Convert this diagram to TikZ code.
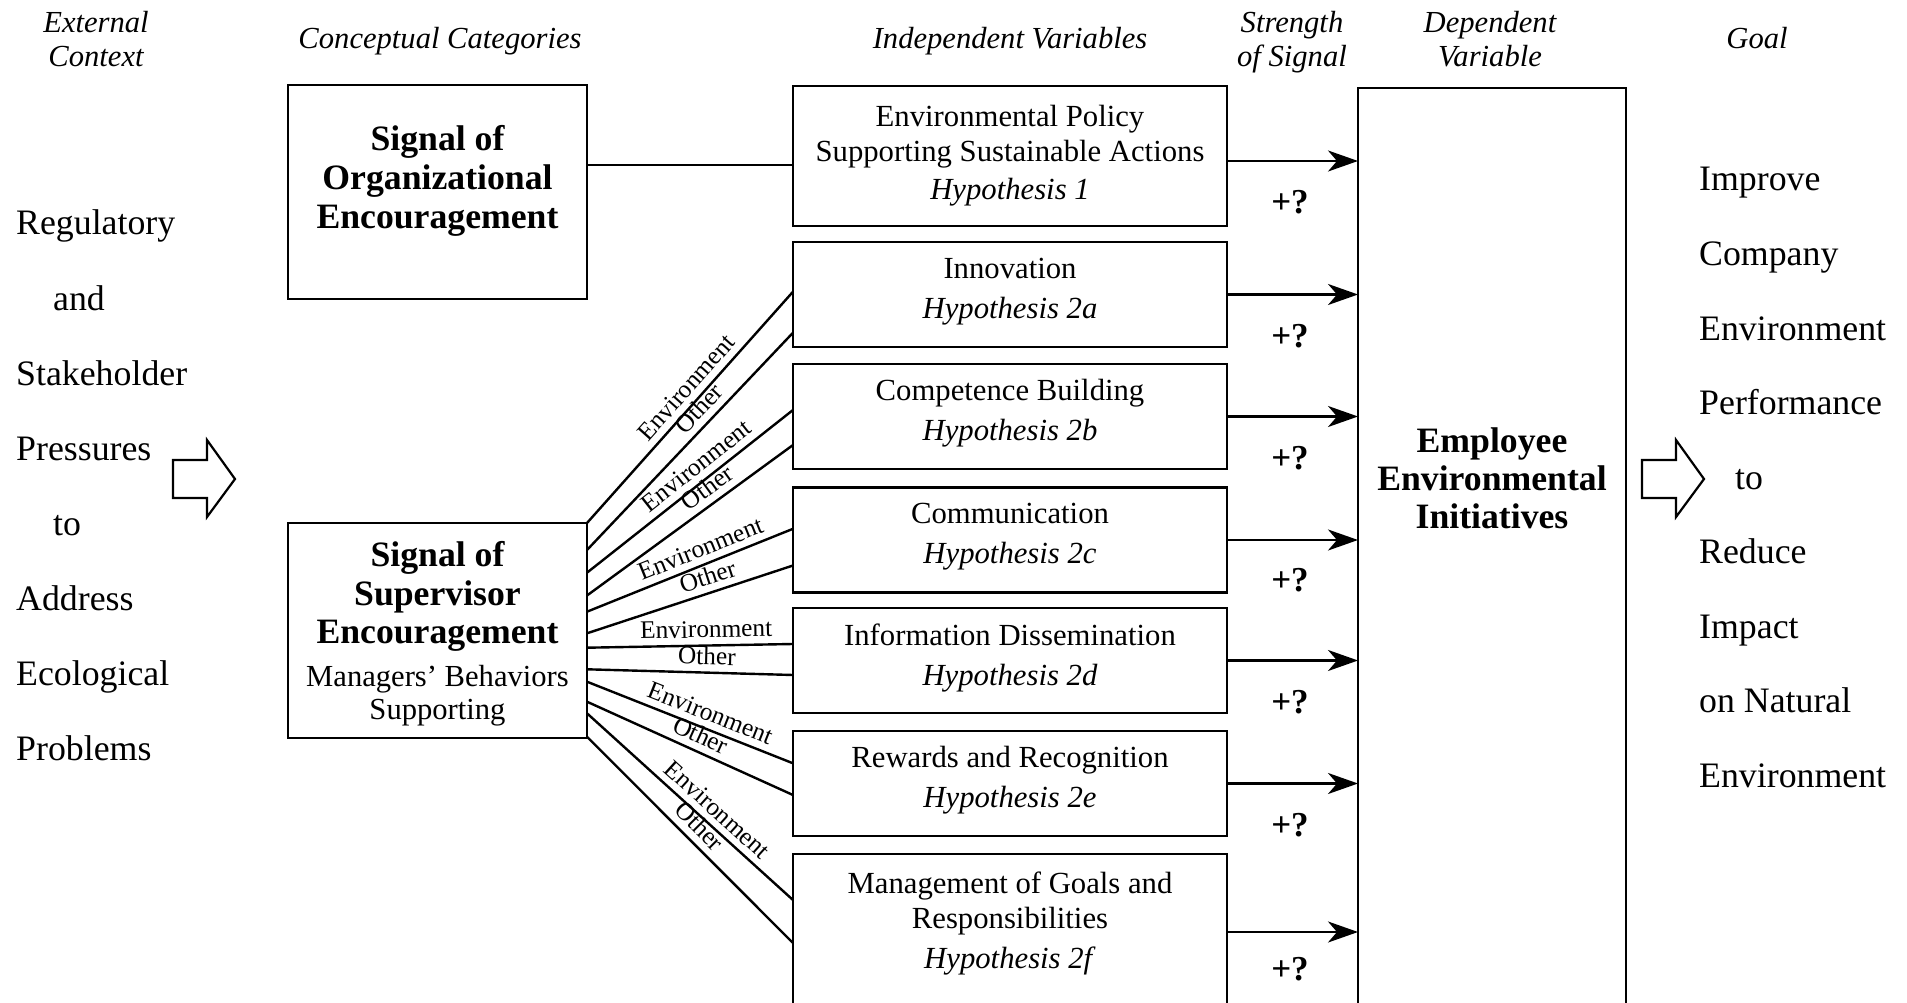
\documentclass[tikz,border=0pt]{standalone}
\usepackage{fontspec}
\setmainfont{Liberation Serif}
\usetikzlibrary{arrows.meta,calc}
\newcommand\bigbold{\fontsize{35.7}{38}\selectfont\bfseries}
\begin{document}
\begin{tikzpicture}[x=1pt,y=-1pt,
  box/.style={draw, line width=2.6pt, align=center, inner sep=0pt, outer sep=0pt},
  ivbox/.style={box, minimum width=434pt, minimum height=105pt, text depth=12.5pt, font=\fontsize{30.7}{40}\selectfont},
  hdr/.style={align=center, inner sep=0pt, font=\fontsize{30.6}{33.5}\selectfont\itshape},
  side/.style={anchor=base west, inner sep=0pt, font=\fontsize{35.8}{40}\selectfont},
  conn/.style={line width=2.4pt},
  lab/.style={sloped, above=5pt, inner sep=1.5pt, font=\fontsize{25.3}{25.3}\selectfont},
  arr/.style={line width=2.6pt, -{Stealth[length=30pt,width=21pt,inset=9pt]}},
  pq/.style={anchor=base, inner sep=0pt, font=\fontsize{35}{35}\selectfont\bfseries},
  blk/.style={draw, line width=2.2pt, line join=miter},
]
\useasboundingbox (0,0) rectangle (1907,1003);
\clip (0,0) rectangle (1907,1003);

% headers
\node[hdr, anchor=north] (hext) at (96,11.5) {External\\Context};
\node[hdr, anchor=base] (hcon) at (440,48.5) {Conceptual Categories};
\node[hdr, anchor=base] (hind) at (1010,48.5) {Independent Variables};
\node[hdr, anchor=north] (hstr) at (1292,11.5) {Strength\\of Signal};
\node[hdr, anchor=north] (hdep) at (1490,11.5) {Dependent\\Variable};
\node[hdr, anchor=base] (hgoal) at (1757,49) {Goal};

% left column
\node[side] (l1) at (16,235) {Regulatory};
\node[side] (l2) at (53,310) {and};
\node[side] (l3) at (16,385) {Stakeholder};
\node[side] (l4) at (16,460) {Pressures};
\node[side] (l5) at (53,535) {to};
\node[side] (l6) at (16,610) {Address};
\node[side] (l7) at (16,685) {Ecological};
\node[side] (l8) at (16,760) {Problems};

% right column
\node[side] (r1) at (1699,191) {Improve};
\node[side] (r2) at (1699,265.5) {Company};
\node[side] (r3) at (1699,340) {Environment};
\node[side] (r4) at (1699,414.5) {Performance};
\node[side] (r5) at (1735,489) {to};
\node[side] (r6) at (1699,563.5) {Reduce};
\node[side] (r7) at (1699,638) {Impact};
\node[side] (r8) at (1699,712.5) {on Natural};
\node[side] (r9) at (1699,787) {Environment};

% block arrows
\draw[blk] (173,460) -- (207,460) -- (207,440) -- (235,479) -- (207,517) -- (207,498) -- (173,498) -- cycle;
\draw[blk] (1642,460) -- (1676,460) -- (1676,440) -- (1704,479) -- (1676,517) -- (1676,498) -- (1642,498) -- cycle;

% category boxes
\node[box, minimum width=299pt, minimum height=214pt, text depth=30pt,
      font=\fontsize{35.7}{39}\selectfont\bfseries] (org) at (437.5,192)
      {Signal of\\Organizational\\Encouragement};
\node[box, minimum width=299pt, minimum height=215pt, text depth=0pt,
      font=\fontsize{30.6}{33}\selectfont] (sup) at (437.5,630.5)
      {\bigbold Signal of\\[5.5pt]\bigbold Supervisor\\[5.5pt]\bigbold Encouragement\\[10pt]Managers’ Behaviors\\Supporting};

% independent variable boxes
\node[box, minimum width=434pt, minimum height=140pt, font=\fontsize{30.7}{35}\selectfont] (iv1) at (1010,156)
      {Environmental Policy\\Supporting Sustainable Actions\\[3pt]\textit{Hypothesis 1}};
\node[ivbox] (iv2) at (1010,294.5) {Innovation\\\textit{Hypothesis 2a}};
\node[ivbox] (iv3) at (1010,416.5) {Competence Building\\\textit{Hypothesis 2b}};
\node[ivbox] (iv4) at (1010,540) {Communication\\\textit{Hypothesis 2c}};
\node[ivbox] (iv5) at (1010,660.5) {Information Dissemination\\\textit{Hypothesis 2d}};
\node[ivbox] (iv6) at (1010,783.5) {Rewards and Recognition\\\textit{Hypothesis 2e}};
\node[box, minimum width=434pt, minimum height=156pt, text depth=23pt, font=\fontsize{30.7}{35}\selectfont] (iv7) at (1010,932)
      {Management of Goals and\\Responsibilities\\[5pt]\textit{Hypothesis 2f}};

% dependent variable
\node[box, minimum width=268pt, minimum height=932pt, text depth=152pt,
      font=\fontsize{35.7}{38}\selectfont\bfseries] (dv) at (1492,554)
      {Employee\\Environmental\\Initiatives};

% organizational link
\coordinate (o1) at ($(iv1.west)+(0,9)$);
\draw[conn] (o1 -| org.east) -- (o1);

% supervisor links
\coordinate (s1) at (sup.north east);
\coordinate (s2) at ($(sup.north east)+(0,27)$);
\coordinate (s3) at ($(sup.north east)+(0,49.7)$);
\coordinate (s4) at ($(sup.north east)+(0,72.5)$);
\coordinate (s5) at ($(sup.north east)+(0,88.7)$);
\coordinate (s6) at ($(sup.north east)+(0,110.3)$);
\coordinate (s7) at ($(sup.north east)+(0,124.7)$);
\coordinate (s8) at ($(sup.north east)+(0,146.3)$);
\coordinate (s9) at ($(sup.north east)+(0,158.7)$);
\coordinate (s10) at ($(sup.north east)+(0,178.7)$);
\coordinate (s11) at ($(sup.north east)+(0,190.3)$);
\coordinate (s12) at ($(sup.north east)+(0,213.7)$);

\coordinate (t1) at ($(iv2.north west)+(0,49.7)$);
\coordinate (t2) at ($(iv2.north west)+(0,90.7)$);
\coordinate (t3) at ($(iv3.north west)+(0,46)$);
\coordinate (t4) at ($(iv3.north west)+(0,81)$);
\coordinate (t5) at ($(iv4.north west)+(0,41.3)$);
\coordinate (t6) at ($(iv4.north west)+(0,78)$);
\coordinate (t7) at ($(iv5.north west)+(0,36)$);
\coordinate (t8) at ($(iv5.north west)+(0,67)$);
\coordinate (t9) at ($(iv6.north west)+(0,32.3)$);
\coordinate (t10) at ($(iv6.north west)+(0,64)$);
\coordinate (t11) at ($(iv7.north west)+(0,46)$);
\coordinate (t12) at ($(iv7.north west)+(0,89)$);

\draw[conn] (s1) -- node[lab, pos=0.54] (e1) {Environment} (t1);
\draw[conn] (s2) -- node[lab, pos=0.60] (o2) {Other} (t2);
\draw[conn] (s3) -- node[lab, pos=0.58] (e3) {Environment} (t3);
\draw[conn] (s4) -- node[lab, pos=0.63] (o4) {Other} (t4);
\draw[conn] (s5) -- node[lab, pos=0.58] (e5) {Environment} (t5);
\draw[conn] (s6) -- node[lab, pos=0.61] (o6) {Other} (t6);
\draw[conn] (s7) -- node[lab, pos=0.58] (e7) {Environment} (t7);
\draw[conn] (s8) -- node[lab, pos=0.58] (o8) {Other} (t8);
\draw[conn] (s9) -- node[lab, pos=0.57] (e9) {Environment} (t9);
\draw[conn] (s10) -- node[lab, pos=0.52] (o10) {Other} (t10);
\draw[conn] (s11) -- node[lab, pos=0.58] (e11) {Environment} (t11);
\draw[conn] (s12) -- node[lab, pos=0.49] (o12) {Other} (t12);

% arrows to dependent variable
\coordinate (a1) at ($(iv1.east)+(0,5)$);
\draw[arr] (a1) -- (a1 -| dv.west);
\draw[arr] (iv2.east) -- (iv2.east -| dv.west);
\draw[arr] (iv3.east) -- (iv3.east -| dv.west);
\draw[arr] (iv4.east) -- (iv4.east -| dv.west);
\draw[arr] (iv5.east) -- (iv5.east -| dv.west);
\draw[arr] (iv6.east) -- (iv6.east -| dv.west);
\draw[arr] (iv7.east) -- (iv7.east -| dv.west);

% strength labels
\node[pq] (p1) at (1290,214) {+?};
\node[pq] (p2) at (1290,347) {+?};
\node[pq] (p3) at (1290,469) {+?};
\node[pq] (p4) at (1290,591) {+?};
\node[pq] (p5) at (1290,713) {+?};
\node[pq] (p6) at (1290,836) {+?};
\node[pq] (p7) at (1290,980) {+?};
\end{tikzpicture}
\end{document}
